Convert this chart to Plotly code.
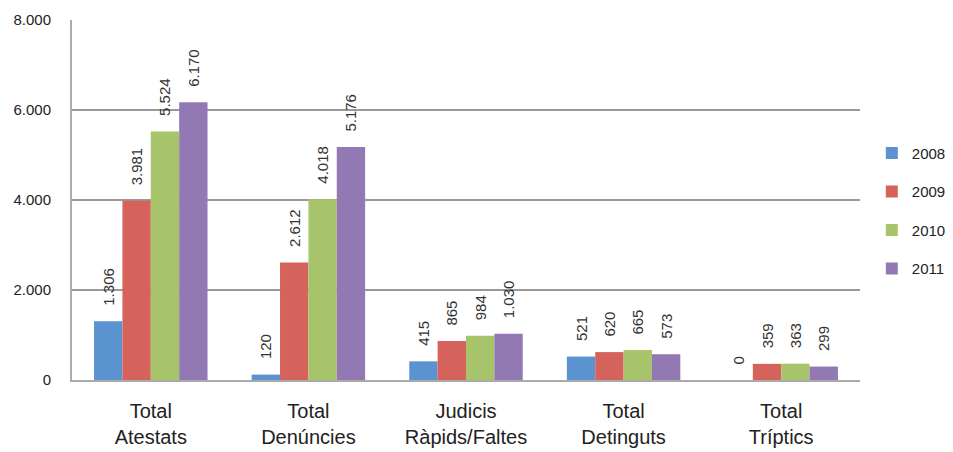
import plotly.graph_objects as go

categories = ["Total<br>Atestats", "Total<br>Denúncies", "Judicis<br>Ràpids/Faltes", "Total<br>Detinguts", "Total<br>Tríptics"]
years = ["2008", "2009", "2010", "2011"]
v2008 = [1306, 120, 415, 521, 0]
v2009 = [3981, 2612, 865, 620, 359]
v2010 = [5524, 4018, 984, 665, 363]
v2011 = [6170, 5176, 1030, 573, 299]
series = [v2008, v2009, v2010, v2011]
colors = ["#5a93cf", "#d5625b", "#a8c46a", "#9279b4"]
y_ticks = [0, 2000, 4000, 6000, 8000]

PAD = "\u00a0\u00a0\u00a0"

fig = go.Figure()
for name, vals, col in zip(years, series, colors):
    fig.add_trace(go.Bar(
        x=categories, y=vals, name=name, legendgroup=name,
        marker=dict(color=col, line=dict(width=0)),
        text=[PAD + f"{v:,}".replace(",", ".") for v in vals],
        textposition="outside", textangle=-90, constraintext="none",
        textfont=dict(family="Liberation Sans, Arial", size=15, color="#333333"),
        cliponaxis=False,
    ))

fig.update_layout(
    width=953, height=452,
    barmode="group", bargap=0.28, bargroupgap=0,
    separators=",.",
    paper_bgcolor="white", plot_bgcolor="white",
    margin=dict(l=72, r=93, t=20, b=72, autoexpand=False),
    font=dict(family="Liberation Sans, Arial", color="#222222"),
    legend=dict(x=1.015, y=0.47, xanchor="left", yanchor="middle",
                font=dict(size=15, color="#222222"),
                traceorder="grouped", tracegroupgap=16, itemwidth=30),
    xaxis=dict(tickfont=dict(size=20, color="#222222"), showline=True,
               linecolor="#aaaaaa", linewidth=2, ticks="", automargin=False,
               ticklabelstandoff=12),
    yaxis=dict(range=[0, 8000], tickvals=y_ticks, tickformat=",d",
               tickfont=dict(size=15, color="#222222"),
               showgrid=True, gridcolor="#999999", gridwidth=1.5,
               showline=True, linecolor="#aaaaaa", linewidth=2,
               ticks="", ticklabelstandoff=16, zeroline=False, automargin=False),
)
fig.write_html("out.html", config={"displayModeBar": False},
               post_script="document.body.style.margin='0';")
